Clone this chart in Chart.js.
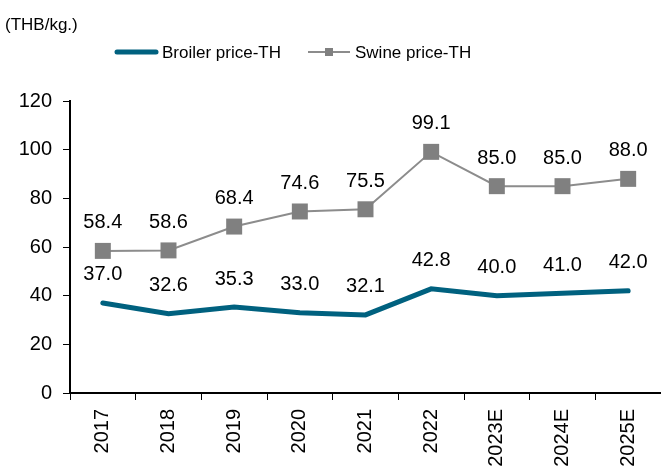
<!DOCTYPE html>
<html>
<head>
<meta charset="utf-8">
<script src="https://cdn.jsdelivr.net/npm/chart.js@4"></script>
<style>
  html, body { margin: 0; padding: 0; background: #fff; }
  #wrap { width: 661px; height: 469px; }
</style>
</head>
<body>
<div id="wrap"><canvas id="chart" width="661" height="469"></canvas></div>
<script>
const years = ['2017', '2018', '2019', '2020', '2021', '2022', '2023E', '2024E', '2025E'];
const broilerPrice = [37.0, 32.6, 35.3, 33.0, 32.1, 42.8, 40.0, 41.0, 42.0];
const swinePrice = [58.4, 58.6, 68.4, 74.6, 75.5, 99.1, 85.0, 85.0, 88.0];
const yTicks = [0, 20, 40, 60, 80, 100, 120];

const FONT = '"Liberation Sans", Arial, sans-serif';

// value labels above every point
const valueLabels = {
  id: 'valueLabels',
  afterDatasetsDraw(chart) {
    const ctx = chart.ctx;
    ctx.save();
    ctx.font = '20px ' + FONT;
    ctx.fillStyle = '#000';
    ctx.textAlign = 'center';
    ctx.textBaseline = 'middle';
    chart.data.datasets.forEach((ds, i) => {
      chart.getDatasetMeta(i).data.forEach((pt, j) => {
        ctx.fillText(ds.data[j].toFixed(1), pt.x, pt.y - 28);
      });
    });
    ctx.restore();
  },
};

// unit title + legend at the top
const headerLegend = {
  id: 'headerLegend',
  afterDraw(chart) {
    const ctx = chart.ctx;
    const [broiler, swine] = chart.data.datasets;
    ctx.save();
    ctx.font = '17px ' + FONT;
    ctx.fillStyle = '#000';
    ctx.textBaseline = 'middle';
    ctx.fillText('(THB/kg.)', 5, 25);

    ctx.lineCap = 'round';
    ctx.strokeStyle = broiler.borderColor;
    ctx.lineWidth = 5;
    ctx.beginPath();
    ctx.moveTo(117, 52);
    ctx.lineTo(156, 52);
    ctx.stroke();
    ctx.fillText(broiler.label, 162, 53);

    ctx.lineCap = 'butt';
    ctx.strokeStyle = swine.borderColor;
    ctx.lineWidth = 2;
    ctx.beginPath();
    ctx.moveTo(308, 52);
    ctx.lineTo(350, 52);
    ctx.stroke();
    ctx.fillStyle = swine.pointBackgroundColor;
    ctx.fillRect(325, 48, 8, 8);
    ctx.fillStyle = '#000';
    ctx.fillText(swine.label, 355, 53);
    ctx.restore();
  },
};

new Chart(document.getElementById('chart'), {
  type: 'line',
  data: {
    labels: years,
    datasets: [
      {
        label: 'Broiler price-TH',
        data: broilerPrice,
        borderColor: '#00617F',
        borderWidth: 5,
        borderCapStyle: 'round',
        pointRadius: 0,
        tension: 0,
        clip: false,
      },
      {
        label: 'Swine price-TH',
        data: swinePrice,
        borderColor: '#8C8C8C',
        borderWidth: 2,
        pointStyle: 'rect',
        pointRadius: 11.3,
        pointBackgroundColor: '#808080',
        pointBorderWidth: 0,
        tension: 0,
        clip: false,
      },
    ],
  },
  options: {
    responsive: false,
    animation: false,
    layout: { autoPadding: false, padding: { top: 101, right: 0, left: 0, bottom: 0 } },
    plugins: {
      legend: { display: false },
      tooltip: { enabled: false },
    },
    scales: {
      x: {
        offset: true,
        grid: {
          offset: true,
          drawOnChartArea: false,
          drawTicks: true,
          tickLength: 7,
          color: '#000',
        },
        border: { display: true, color: '#000', width: 2 },
        ticks: {
          color: '#000',
          font: { size: 20, family: FONT },
          maxRotation: 90,
          minRotation: 90,
          padding: 9,
        },
        afterFit(scale) {
          scale.height = 76;
          scale.paddingLeft = 0;
          scale.paddingRight = 0;
        },
      },
      y: {
        min: 0,
        max: 120,
        afterBuildTicks(scale) { scale.ticks = yTicks.map((v) => ({ value: v })); },
        grid: {
          drawOnChartArea: false,
          drawTicks: true,
          tickLength: 7,
          color: '#000',
        },
        border: { display: true, color: '#000', width: 2 },
        ticks: {
          color: '#000',
          font: { size: 20, family: FONT },
          padding: 11,
        },
        afterFit(scale) {
          scale.width = 70;
          scale.paddingTop = 0;
          scale.paddingBottom = 0;
        },
      },
    },
  },
  plugins: [valueLabels, headerLegend],
});
</script>
</body>
</html>
